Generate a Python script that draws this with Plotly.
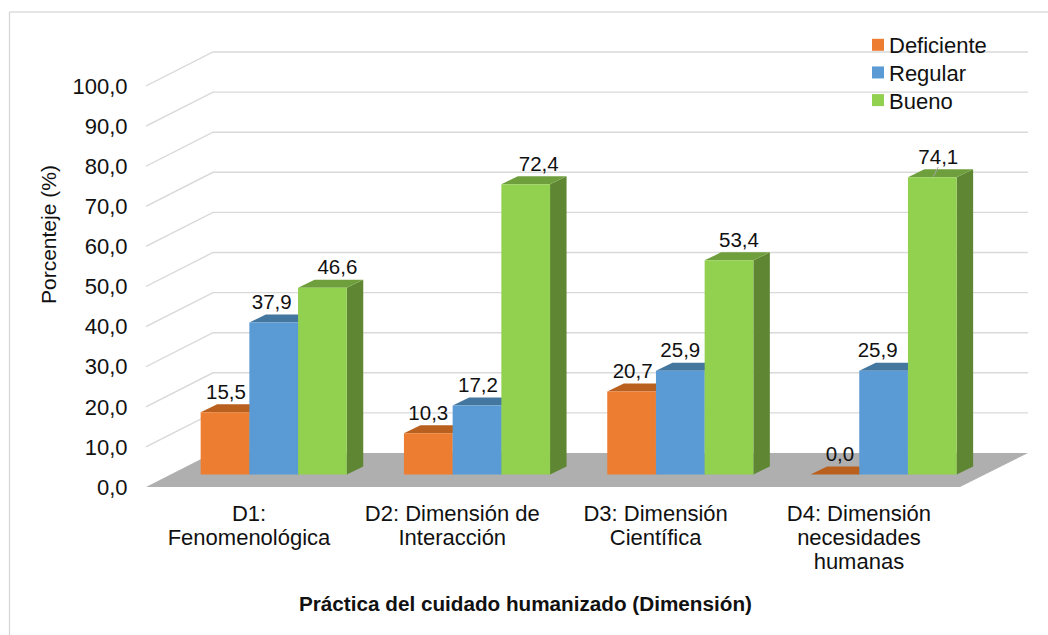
import plotly.graph_objects as go

# ---- data ----
categories = ["D1:<br>Fenomenológica", "D2: Dimensión de<br>Interacción",
              "D3: Dimensión<br>Científica", "D4: Dimensión<br>necesidades<br>humanas"]
deficiente = [15.5, 10.3, 20.7, 0.0]
regular = [37.9, 17.2, 25.9, 25.9]
bueno = [46.6, 72.4, 53.4, 74.1]
y_ticks = [0, 10, 20, 30, 40, 50, 60, 70, 80, 90, 100]

series = [
    ("Deficiente", deficiente, "#ED7D31", "#B9601F", "#B9601F"),
    ("Regular", regular, "#5B9BD5", "#44779F", "#44779F"),
    ("Bueno", bueno, "#92D050", "#6F9F3C", "#5F8733"),
]

# ---- layout geometry (pixels of the page) ----
W, H = 1048, 635
LEFT, RIGHT, TOP, BOTTOM = 146, 1028, 26, 487
PX_PER_VAL = 4.01
PX_PER_CAT = 203.3
CAT0_PX = 273.7
xr = [(LEFT - CAT0_PX) / PX_PER_CAT, (RIGHT - CAT0_PX) / PX_PER_CAT]
yr = [0, (BOTTOM - TOP) / PX_PER_VAL]

FLOOR_DX, FLOOR_DY = 67 / PX_PER_CAT, 34 / PX_PER_VAL
FLOOR_FRONT_RIGHT = (960 - CAT0_PX) / PX_PER_CAT
BAR_W = 48.7 / PX_PER_CAT
BAR_BASE = 12.5 / PX_PER_VAL
BAR_DX, BAR_DY = 16.5 / PX_PER_CAT, 8 / PX_PER_VAL
LABEL_DY = 18.7 / PX_PER_VAL
TICK_SHIFT = 24.7 / PX_PER_CAT
# horizontal nudges of the data labels, pixels
label_nudge = [[1, -2, 15], [0, 1, 13], [1, 0, 10], [5, -6, 6]]


def paper_x(px):
    return (px - LEFT) / (RIGHT - LEFT)


def paper_y(px):
    return (BOTTOM - px) / (BOTTOM - TOP)


fig = go.Figure()

# floor
fig.add_trace(go.Scatter(
    x=[xr[0], xr[0] + FLOOR_DX, xr[1], FLOOR_FRONT_RIGHT, xr[0]],
    y=[0, FLOOR_DY, FLOOR_DY, 0, 0],
    mode="lines", fill="toself", fillcolor="#AFAFAF",
    line=dict(width=0), showlegend=False, hoverinfo="skip"))

# walls' gridlines
for v in y_ticks[1:]:
    fig.add_trace(go.Scatter(
        x=[xr[0], xr[0] + FLOOR_DX, xr[1]],
        y=[v, v + FLOOR_DY, v + FLOOR_DY],
        mode="lines", line=dict(color="#D9D9D9", width=1.4),
        showlegend=False, hoverinfo="skip"))

# top and side faces of the bars
for s, (name, vals, front, top, side) in enumerate(series):
    for i, v in enumerate(vals):
        x0 = i + (s - 1) * BAR_W - BAR_W / 2
        x1 = x0 + BAR_W
        y0 = BAR_BASE
        y1 = BAR_BASE + v
        fig.add_trace(go.Scatter(
            x=[x1, x1 + BAR_DX, x1 + BAR_DX, x1, x1],
            y=[y0, y0 + BAR_DY, y1 + BAR_DY, y1, y0],
            mode="lines", fill="toself", fillcolor=side,
            line=dict(width=0), showlegend=False, hoverinfo="skip"))
        fig.add_trace(go.Scatter(
            x=[x0, x1, x1 + BAR_DX, x0 + BAR_DX, x0],
            y=[y1, y1, y1 + BAR_DY, y1 + BAR_DY, y1],
            mode="lines", fill="toself", fillcolor=top,
            line=dict(width=0), showlegend=False, hoverinfo="skip"))

# front faces, on an overlaid pair of axes so that they hide the faces behind
for s, (name, vals, front, top, side) in enumerate(series):
    fig.add_trace(go.Bar(
        x=[i + (s - 1) * BAR_W for i in range(len(vals))],
        y=vals, base=BAR_BASE, width=BAR_W, name=name,
        marker=dict(color=front, line=dict(width=0)),
        xaxis="x2", yaxis="y2", hoverinfo="name+y"))

# data labels
for s, (name, vals, front, top, side) in enumerate(series):
    fig.add_trace(go.Scatter(
        x=[i + (s - 1) * BAR_W + label_nudge[i][s] / PX_PER_CAT for i in range(len(vals))],
        y=[BAR_BASE + v + LABEL_DY for v in vals],
        mode="text", text=[f"{v:.1f}".replace(".", ",") for v in vals],
        textposition="middle center",
        textfont=dict(family="Liberation Sans", size=20.5, color="#111111"),
        xaxis="x2", yaxis="y2", showlegend=False, hoverinfo="skip"))

# leader line of the last label
fig.add_trace(go.Scatter(
    x=[3 + BAR_W + 1 / PX_PER_CAT, 3 + BAR_W + 6 / PX_PER_CAT],
    y=[BAR_BASE + bueno[3] + 0.2, BAR_BASE + bueno[3] + 2.6],
    mode="lines", line=dict(color="#A6A6A6", width=1),
    xaxis="x2", yaxis="y2", showlegend=False, hoverinfo="skip"))

tick_font = dict(family="Liberation Sans", size=22, color="#111111")
fig.update_layout(
    width=W, height=H,
    margin=dict(l=LEFT, r=W - RIGHT, t=TOP, b=H - BOTTOM, autoexpand=False),
    paper_bgcolor="white", plot_bgcolor="white",
    barmode="overlay", separators=",.",
    font=tick_font,
    xaxis=dict(range=xr, tickmode="array",
               tickvals=[i - TICK_SHIFT for i in range(len(categories))],
               ticktext=categories, ticks="outside", ticklen=7,
               tickcolor="rgba(0,0,0,0)", tickangle=0,
               showgrid=False, zeroline=False, showline=False, tickfont=tick_font),
    yaxis=dict(range=yr, tickmode="array", tickvals=y_ticks, tickformat=".1f",
               ticks="outside", ticklen=13, tickcolor="rgba(0,0,0,0)",
               showgrid=False, zeroline=False, showline=False, tickfont=tick_font),
    xaxis2=dict(range=xr, overlaying="x", visible=False),
    yaxis2=dict(range=yr, overlaying="y", visible=False),
    legend=dict(x=paper_x(858), y=paper_y(24), xanchor="left", yanchor="top",
                bgcolor="rgba(0,0,0,0)", indentation=-9,
                font=dict(family="Liberation Sans", size=22, color="#111111")),
    shapes=[
        dict(type="line", xref="paper", yref="paper",
             x0=paper_x(9.5), x1=paper_x(W), y0=paper_y(12), y1=paper_y(12),
             line=dict(color="#DDDDDD", width=1.5), layer="below"),
        dict(type="line", xref="paper", yref="paper",
             x0=paper_x(9.5), x1=paper_x(9.5), y0=paper_y(12), y1=paper_y(H),
             line=dict(color="#D4D4D4", width=1.2), layer="below"),
    ],
    annotations=[
        dict(text="Porcenteje (%)", textangle=-90, xref="paper", yref="paper",
             x=paper_x(48), y=paper_y(235), xanchor="center", yanchor="middle",
             showarrow=False,
             font=dict(family="Liberation Sans", size=21, color="#111111")),
        dict(text="<b>Práctica del cuidado humanizado (Dimensión)</b>",
             xref="paper", yref="paper", x=paper_x(525), y=paper_y(603),
             xanchor="center", yanchor="middle", showarrow=False,
             font=dict(family="Liberation Sans", size=20.7, color="#111111")),
    ],
)

post = """
document.body.style.margin='0';document.body.style.overflow='hidden';
document.querySelectorAll('.xtick text tspan.line').forEach(function(t){
  var d=parseFloat(t.getAttribute('dy'));
  if(d){t.setAttribute('dy',(d*1.09/1.3)+'em');}
});
document.querySelectorAll('.legend .traces .layers path').forEach(function(p){
  p.setAttribute('transform','translate(9,0) '+(p.getAttribute('transform')||''));
});
var y0=null;
document.querySelectorAll('.legend .traces').forEach(function(g){
  var m=/translate\\(\\s*([-\\d.]+)[ ,]+([-\\d.]+)\\s*\\)/.exec(g.getAttribute('transform')||'');
  if(!m){return;}
  var y=parseFloat(m[2]);
  if(y0===null){y0=y;}
  g.setAttribute('transform','translate('+m[1]+','+(y0+(y-y0)*28/32)+')');
});
"""
fig.write_html("out.html", config=dict(displayModeBar=False), post_script=post)
